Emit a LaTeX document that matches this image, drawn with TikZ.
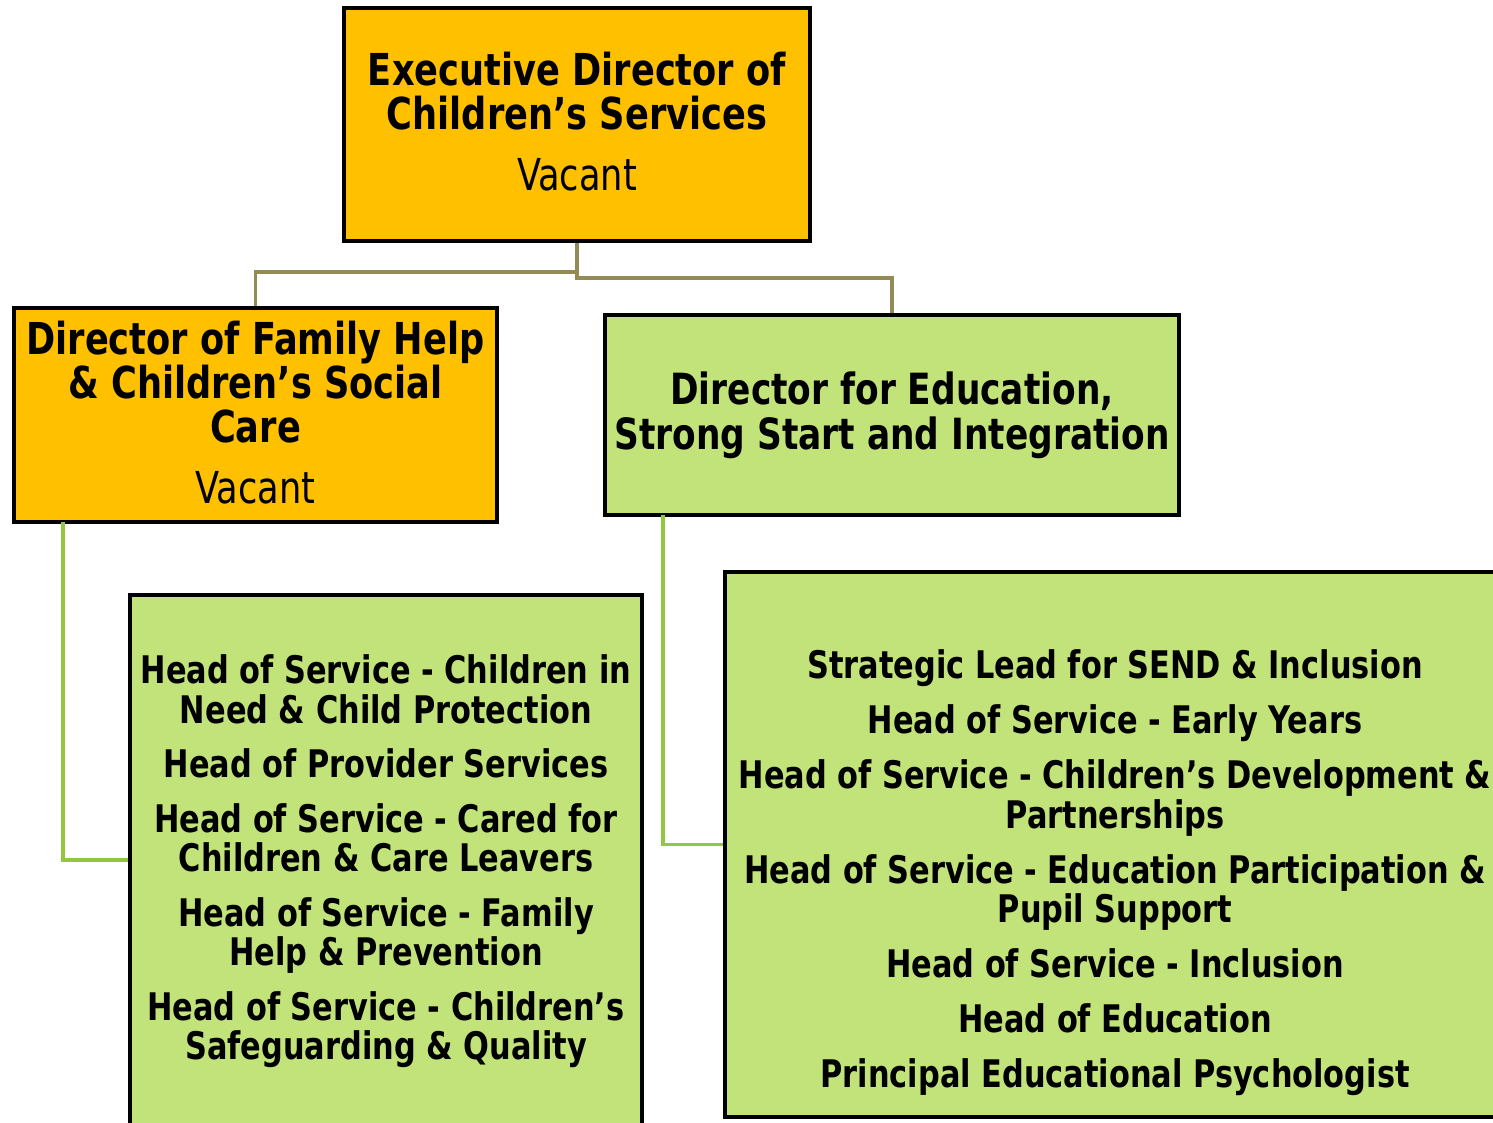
\documentclass[tikz,border=0pt]{standalone}
\usepackage{fontspec}
\setmainfont{DejaVu Sans}[FakeStretch=0.80]
\usepackage{xcolor}
\definecolor{boxorange}{HTML}{FFC000}
\definecolor{boxgreen}{HTML}{C2E37A}
\definecolor{linkolive}{HTML}{948A54}
\definecolor{linkgreen}{HTML}{92C83E}

\begin{document}
\begin{tikzpicture}
  [x=1pt,y=-1pt,
   every node/.style={draw=black,line width=3.5pt,align=center,inner sep=0pt},
   topbox/.style={fill=boxorange,font=\fontsize{44}{44}\selectfont\bfseries},
   edubox/.style={fill=boxgreen,font=\fontsize{44}{45}\selectfont\bfseries},
   headbox/.style={fill=boxgreen,font=\fontsize{38}{39.5}\selectfont\bfseries},
   headtext/.style={draw=none,fill=none,font=\fontsize{38}{39.5}\selectfont\bfseries},
   olivelink/.style={draw=linkolive,line width=3.2pt},
   greenlink/.style={draw=linkgreen,line width=3.5pt}]
  \useasboundingbox (0,0) rectangle (1493,1123);

  \node[topbox,minimum width=466pt,minimum height=233pt] (exec) at (577,124.5)
    {Executive Director of\\ Children’s Services\\[17pt] \mdseries Vacant\rule[-6pt]{0pt}{0pt}};
  \node[topbox,minimum width=483pt,minimum height=214pt] (fam) at (255.5,415)
    {Director of Family Help\\ \& Children’s Social\\ Care\\[17pt] \mdseries Vacant\rule[-6pt]{0pt}{0pt}};
  \node[edubox,minimum width=574pt,minimum height=200pt] (edu) at (892,415)
    {\fontsize{43}{45}\selectfont Director for Education,\\
     \fontsize{43}{45}\selectfont Strong Start and Integration};

  \node[headbox,minimum width=512pt,minimum height=530pt] (famheads) at (386,860)
    {\rule{0pt}{32pt}Head of Service - Children in\\ Need \& Child Protection\\[15pt]
     Head of Provider Services\\[15pt]
     Head of Service - Cared for\\ Children \& Care Leavers\\[15pt]
     Head of Service - Family\\ Help \& Prevention\\[15pt]
     Head of Service - Children’s\\ Safeguarding \& Quality};
  \node[headbox,minimum width=780pt,minimum height=545pt] (eduheads) at (1115,844.5) {};
  \node[headtext] (edulist) at (1115,873)
    {Strategic Lead for SEND \& Inclusion\\[15.5pt]
     Head of Service - Early Years\\[15.5pt]
     Head of Service - Children’s Development \&\\ Partnerships\\[15.5pt]
     Head of Service - Education Participation \&\\ Pupil Support\\[15.5pt]
     Head of Service - Inclusion\\[15.5pt]
     Head of Education\\[15.5pt]
     Principal Educational Psychologist};

  \coordinate (split) at (577,272);
  \coordinate (split2) at (577,278);
  \coordinate (famtap) at (63,522);
  \coordinate (edutap) at (663,515);

  \draw[olivelink] (exec.south) -- (split) -| (fam.north);
  \draw[olivelink] (split) -- (split2) -| (edu.north);
  \foreach \from/\to in {famtap/famheads,edutap/eduheads}
    \draw[greenlink] (\from) |- (\to.west);

\end{tikzpicture}
\end{document}
